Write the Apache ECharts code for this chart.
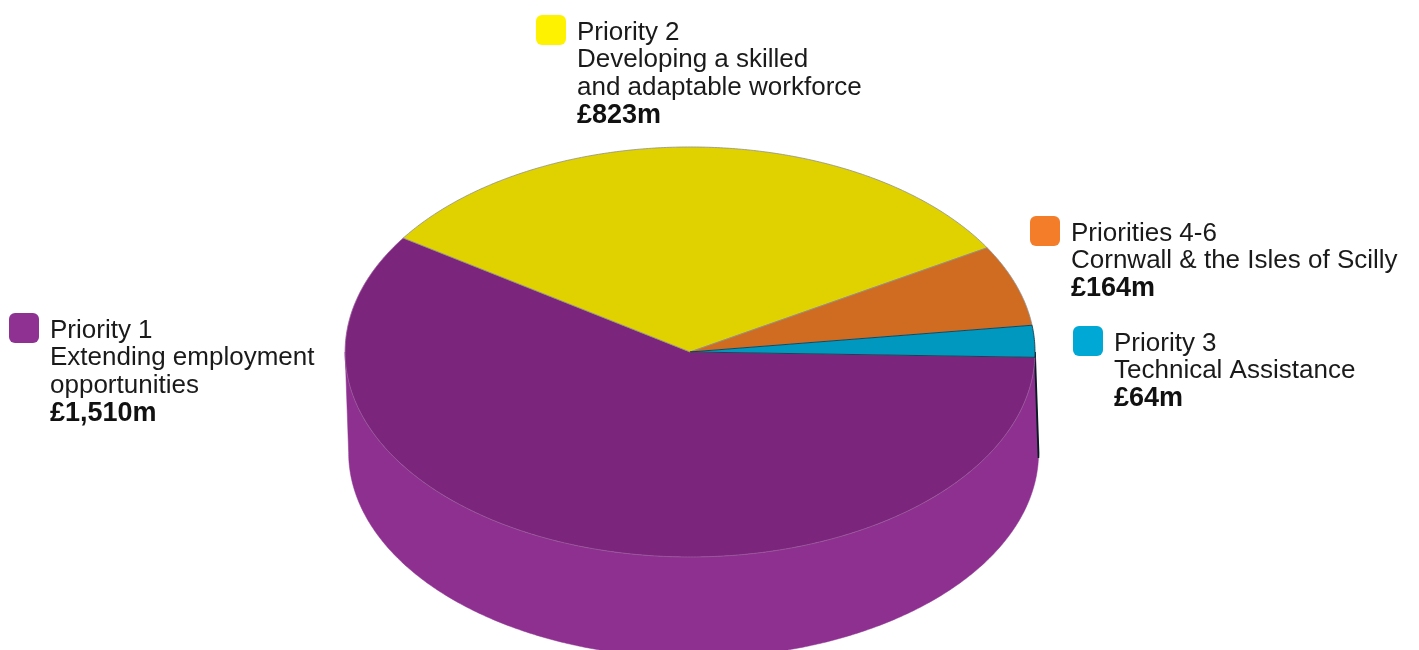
<!DOCTYPE html>
<html>
<head>
<meta charset="utf-8">
<script src="https://cdn.jsdelivr.net/npm/echarts@6/dist/echarts.min.js"></script>
<style>
  html, body { margin: 0; padding: 0; background: #fff; }
  #chart { width: 1419px; height: 650px; }
</style>
</head>
<body>
<div id="chart"></div>
<script>
// ESF allocation by priority (£m)
const categories = ['Priority 1', 'Priority 2', 'Priorities 4-6', 'Priority 3'];
const descriptions = [
  'Extending employment\nopportunities',
  'Developing a skilled\nand adaptable workforce',
  'Cornwall & the Isles of Scilly',
  'Technical Assistance'
];
const values = [1510, 823, 164, 64];

// Order in which slices are laid out counter-clockwise from the start angle
const sweepOrder = [3, 2, 1, 0];
const startAngle = -1.5;

// Colours: top faces, side walls, key swatches
const topColors = ['#7b267c', '#dfd200', '#d06b22', '#0098bf'];
const sideColors = ['#8d3090', '#c8bd00', '#b85c1c', '#00819f'];
const topStrokes = ['#9a5a9c', '#8f8f8f', '#8f8f8f', '#10303e'];
const swatchColors = ['#8e3192', '#fff200', '#f47d2a', '#00a8d6'];

// Key placement (top-left of swatch)
const keyPos = [[9, 313], [536, 15], [1030, 216], [1073, 326]];

const FONT = '"Liberation Sans", Arial, Helvetica, sans-serif';

const total = values.reduce((a, b) => a + b, 0);
const sliceAngles = [];
(function () {
  let cur = startAngle;
  sweepOrder.forEach(i => {
    const sweep = values[i] / total * 360;
    sliceAngles[i] = [cur, cur + sweep];
    cur += sweep;
  });
})();

function fmtMoney(v) {
  return '£' + v.toLocaleString('en-GB') + 'm';
}

const chart = echarts.init(document.getElementById('chart'), null, { renderer: 'canvas' });

function renderItem(params, api) {
  const i = params.dataIndex;
  const W = api.getWidth();
  const H = api.getHeight();
  const cx = W * 0.4863, cy = H * 0.5415;
  const rx = W * 0.2431, ry = H * 0.3154;
  const depth = H * 0.155;
  const baseShift = W * 0.0025; // base sits slightly to the right (viewpoint skew)
  const rad = d => d * Math.PI / 180;
  const pt = (deg, dy) => {
    const sx = dy ? baseShift : 0;
    return [cx + sx + rx * Math.cos(rad(deg)), cy - ry * Math.sin(rad(deg)) + (dy || 0)];
  };
  const arc = (a, b, dy) => {
    const n = Math.max(2, Math.ceil(Math.abs(b - a) / 0.5));
    const pts = [];
    for (let k = 0; k <= n; k++) pts.push(pt(a + (b - a) * k / n, dy));
    return pts;
  };

  const [a0, a1] = sliceAngles[i];
  const children = [];

  // Top face
  children.push({
    type: 'polygon',
    z2: 10,
    shape: { points: [[cx, cy]].concat(arc(a0, a1, 0)) },
    style: { fill: topColors[i], stroke: topStrokes[i], lineWidth: 0.8 }
  });

  // Visible side wall: the part of the slice facing the viewer (sin < 0)
  [[-180, 0], [180, 360]].forEach(([f0, f1]) => {
    const s = Math.max(a0, f0), e = Math.min(a1, f1);
    if (e > s) {
      const pts = arc(s, e, 0).concat(arc(e, s, depth));
      children.push({
        type: 'polygon',
        z2: 1,
        shape: { points: pts },
        style: {
          fill: sideColors[i],
          stroke: i === 3 ? '#0a1a22' : sideColors[i],
          lineWidth: i === 3 ? 1.6 : 0.5
        }
      });
    }
  });

  return { type: 'group', children: children };
}

const graphics = [];
categories.forEach((name, i) => {
  const [x, y] = keyPos[i];
  graphics.push({
    type: 'rect',
    x: x, y: y,
    shape: { width: 30, height: 30, r: 6 },
    style: { fill: swatchColors[i] },
    silent: true
  });
  graphics.push({
    type: 'text',
    x: x + 41, y: y + 4,
    silent: true,
    style: {
      text: name + '\n' + descriptions[i] + '\n{v|' + fmtMoney(values[i]) + '}',
      fontFamily: FONT,
      fontSize: 26,
      lineHeight: 27.5,
      fill: '#1a1a1a',
      verticalAlign: 'top',
      align: 'left',
      rich: {
        v: { fontFamily: FONT, fontSize: 27, fontWeight: 'bold', lineHeight: 27.5, fill: '#111111' }
      }
    }
  });
});

chart.setOption({
  backgroundColor: '#ffffff',
  animation: false,
  series: [{
    type: 'custom',
    coordinateSystem: 'none',
    silent: true,
    data: values.map((v, i) => ({ name: categories[i], value: [v, i] })),
    renderItem: renderItem
  }],
  graphic: graphics
});
</script>
</body>
</html>
